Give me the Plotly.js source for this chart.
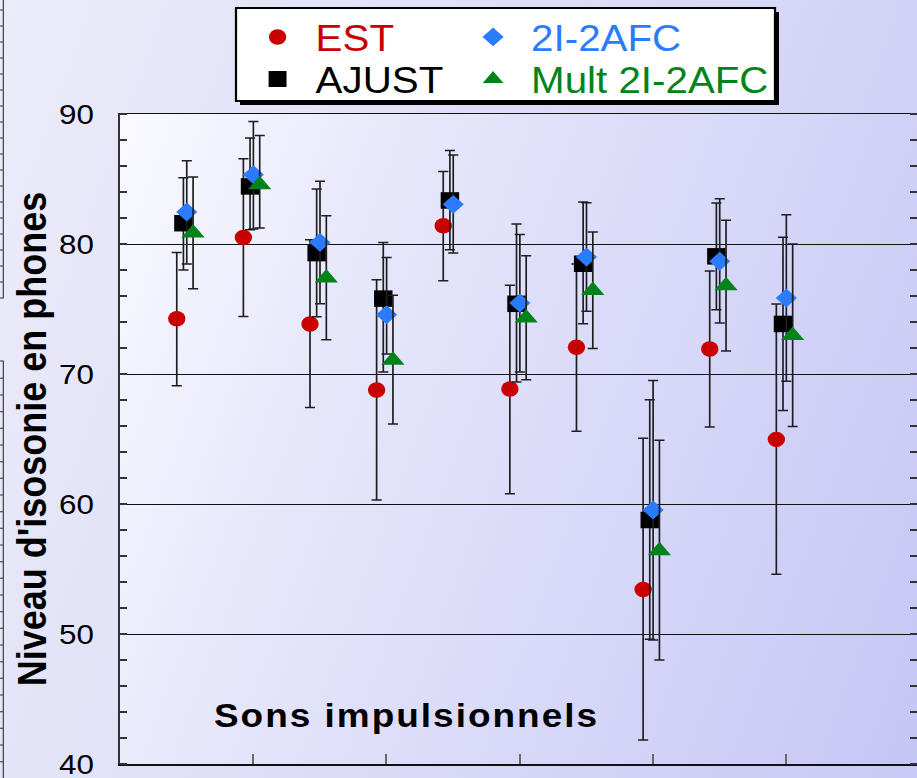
<!DOCTYPE html>
<html>
<head>
<meta charset="utf-8">
<script src="https://cdn.plot.ly/plotly-3.0.1.min.js"></script>
<style>
  html, body { margin: 0; padding: 0; }
  #frame {
    position: relative; width: 917px; height: 778px; overflow: hidden;
    background:
      linear-gradient(110deg, #fafaff 0%, #e6e6fb 30%, #d4d4f8 70%, #c6c6f5 100%) 119.5px 114px / 797.5px 650px no-repeat,
      linear-gradient(110deg, #ececfa 0%, #dcdcf7 50%, #c9c9f5 100%);
  }
  #chart { position: absolute; left: 0; top: 0; transform-origin: 0 0; }
</style>
</head>
<body>
<div id="frame"><div id="chart"></div></div>
<script>
// Stimulus index (1..10) on the x axis
const stimulus = [1, 2, 3, 4, 5, 6, 7, 8, 9, 10];

// EST
const estMean = [74.25, 80.5, 73.85, 68.77, 81.4, 68.85, 72.05, 53.43, 71.92, 64.97];
const estHigh = [79.35, 86.56, 80.33, 77.25, 85.58, 76.82, 78.46, 65.05, 77.92, 75.38];
const estLow  = [69.1, 74.43, 67.43, 60.3, 77.18, 60.79, 65.6, 41.85, 65.92, 54.6];

// AJUST
const ajustMean = [81.6, 84.43, 79.3, 75.8, 83.35, 75.4, 78.48, 58.77, 79.05, 73.85];
const ajustHigh = [85.1, 88.15, 84.23, 80.12, 87.2, 81.54, 83.23, 68.02, 83.15, 80.51];
const ajustLow  = [78.0, 81.1, 74.4, 70.15, 79.56, 69.38, 73.87, 49.6, 74.95, 67.2];

// 2I-2AFC
const afcMean = [82.46, 85.33, 80.12, 74.56, 83.05, 75.46, 79.0, 59.54, 78.67, 75.85];
const afcHigh = [86.4, 89.43, 84.82, 78.97, 86.85, 80.74, 83.18, 69.5, 83.48, 82.25];
const afcLow  = [78.46, 81.15, 75.4, 71.54, 79.3, 70.15, 74.82, 49.54, 73.92, 69.44];

// Mult 2I-2AFC (no measurement for stimulus 5)
const multMean = [80.85, 84.56, 77.38, 71.05, null, 74.3, 76.43, 56.4, 76.79, 72.97];
const multHigh = [85.15, 88.35, 82.18, 76.05, null, 79.1, 80.92, 64.9, 81.82, 80.0];
const multLow  = [76.56, 81.23, 72.64, 66.15, null, 69.56, 71.97, 48.0, 71.77, 65.97];

const yTickVals = [40, 50, 60, 70, 80, 90];
const xTickVals = [2, 4, 6, 8, 10];

// Drawing size; the figure is stretched horizontally to fill the frame
const W = 819, H = 778;
const SX = 917 / W;
const M = { l: 107, r: 0, t: 114, b: 14 };
const PW = W - M.l - M.r, PH = H - M.t - M.b;
const FONT = 'Liberation Sans, Arial, Helvetica, sans-serif';

// frame-pixel -> paper coordinates
const px = v => (v / SX - M.l) / PW;
const py = v => 1 - (v - M.t) / PH;

function series(name, mean, high, low, dx, marker, legendId) {
  return {
    type: 'scatter', mode: 'markers', name: name,
    x: stimulus.map(s => s + dx), y: mean,
    error_y: {
      type: 'data', symmetric: false,
      array: mean.map((v, i) => v == null ? null : high[i] - v),
      arrayminus: mean.map((v, i) => v == null ? null : v - low[i]),
      thickness: 1.5, width: 4.5, color: '#1e1e1e'
    },
    marker: marker, legend: legendId, cliponaxis: false, hoverinfo: 'skip'
  };
}

const data = [
  series('EST', estMean, estHigh, estLow, -0.145,
         { symbol: 'circle', size: 15.5, color: '#c80000' }, 'legend'),
  series('AJUST', ajustMean, ajustHigh, ajustLow, -0.045,
         { symbol: 'square', size: 16.5, color: '#000000' }, 'legend3'),
  series('2I-2AFC', afcMean, afcHigh, afcLow, 0.005,
         { symbol: 'diamond', size: 14.5, color: '#2a7cfc' }, 'legend2'),
  series('Mult 2I-2AFC', multMean, multHigh, multLow, 0.1,
         { symbol: 'triangle-up', size: 18, color: '#00841a' }, 'legend4')
];

function legendAt(xf, yf, color) {
  return {
    x: px(xf), y: py(yf), xanchor: 'left', yanchor: 'middle',
    bgcolor: 'rgba(0,0,0,0)', borderwidth: 0, itemwidth: 58,
    font: { family: FONT, size: 36, color: color }
  };
}

// Framing of a neighbouring panel along the left edge
function edgeFrame() {
  const xr = px(3.3), x0 = px(0);
  let d = `M${xr},${py(0)} L${xr},${py(298)} L${x0},${py(298)} `;
  for (let y = 10; y < 298; y += 16) d += `M${x0},${py(y)} L${xr},${py(y)} `;
  d += `M${x0},${py(361)} L${xr},${py(361)} L${xr},${py(778)} `;
  for (let y = 378.3; y < 778; y += 16.67) d += `M${x0},${py(y)} L${xr},${py(y)} `;
  return d;
}

const layout = {
  width: W, height: H, margin: M,
  paper_bgcolor: 'rgba(0,0,0,0)', plot_bgcolor: 'rgba(0,0,0,0)',
  font: { family: FONT, color: '#000' },
  showlegend: true,
  xaxis: {
    range: [0, PW / 59.5], showgrid: false, zeroline: false,
    tickvals: xTickVals, ticks: 'inside', ticklen: 10, tickwidth: 1.8, tickcolor: '#6a6a6a',
    showticklabels: false, showline: true, linecolor: '#111', linewidth: 1.5, mirror: true
  },
  yaxis: {
    range: [40, 90], tickvals: yTickVals, ticks: '', showgrid: true,
    gridcolor: '#111', gridwidth: 1, zeroline: false,
    showline: true, linecolor: '#333', linewidth: 1.5, mirror: 'ticks',
    tickfont: { family: FONT, size: 28, color: '#000' }, ticklabelstandoff: 16,
    ticklabeloverflow: 'allow',
    minor: { dtick: 2, ticks: 'inside', ticklen: 6.5, tickwidth: 1.2, tickcolor: '#333', showgrid: false },
    title: { text: "Niveau d'isosonie en phones", standoff: 0,
             font: { family: FONT, size: 36, weight: 'bold', color: '#000' } }
  },
  legend:  legendAt(239.5, 37, '#c80000'),
  legend2: legendAt(455, 37, '#2a7cfc'),
  legend3: legendAt(239.5, 79, '#000000'),
  legend4: legendAt(455, 79, '#00841a'),
  shapes: [
    { type: 'rect', xref: 'paper', yref: 'paper', layer: 'above',
      x0: px(240), x1: px(779), y0: py(12), y1: py(105),
      fillcolor: '#000', line: { width: 0 } },
    { type: 'rect', xref: 'paper', yref: 'paper', layer: 'above',
      x0: px(236), x1: px(775), y0: py(8), y1: py(101),
      fillcolor: '#fff', line: { color: '#000', width: 2 } },
    { type: 'path', xref: 'paper', yref: 'paper', layer: 'above',
      path: edgeFrame(), line: { color: '#333', width: 1 } }
  ],
  annotations: [
    { xref: 'paper', yref: 'paper', x: px(406.7), y: py(715),
      xanchor: 'center', yanchor: 'middle', showarrow: false,
      text: '<span style="letter-spacing:1.8px">Sons impulsionnels</span>',
      font: { family: FONT, size: 33, weight: 'bold', color: '#000' } }
  ]
};

document.getElementById('chart').style.transform = 'scaleX(' + SX + ')';
Plotly.newPlot('chart', data, layout, { displayModeBar: false, staticPlot: true });
</script>
</body>
</html>
